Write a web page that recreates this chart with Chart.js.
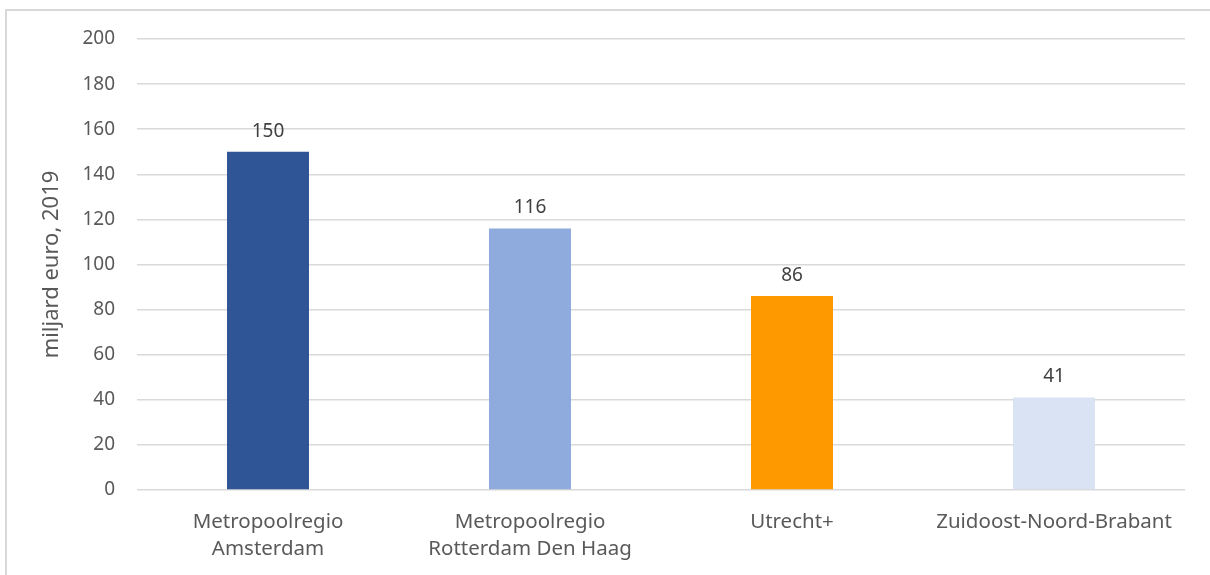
<!DOCTYPE html>
<html>
<head>
<meta charset="utf-8">
<script src="https://cdn.jsdelivr.net/npm/chart.js@4"></script>
<style>
  html, body { margin: 0; padding: 0; background: #fff; overflow: hidden; }
  #frame { position: absolute; left: 5px; top: 9px; width: 1300px; height: 700px; border: 2px solid #d9d9d9; box-sizing: border-box; }
  #wrap { position: absolute; left: 0; top: 0; width: 1210px; height: 575px; }
</style>
</head>
<body>
<div id="frame"></div>
<div id="wrap"><canvas id="myChart" width="1210" height="575"></canvas></div>
<script>
// regio's en toegevoegde waarde (miljard euro, 2019)
const regios = [
  ['Metropoolregio', 'Amsterdam'],
  ['Metropoolregio', 'Rotterdam Den Haag'],
  'Utrecht+',
  'Zuidoost-Noord-Brabant'
];
const waarden = [150, 116, 86, 41];
const kleuren = ['#2f5597', '#8faadc', '#ff9900', '#dae3f3'];
const yTicks = [0, 20, 40, 60, 80, 100, 120, 140, 160, 180, 200];

const fontFam = "'Noto Sans', sans-serif";
const grijs = '#595959';

// waarde boven elke staaf
const labelPlugin = {
  id: 'waardeLabels',
  afterDatasetsDraw(chart) {
    const ctx = chart.ctx;
    const meta = chart.getDatasetMeta(0);
    ctx.save();
    ctx.font = '19px ' + fontFam;
    ctx.fillStyle = '#404040';
    ctx.textAlign = 'center';
    ctx.textBaseline = 'bottom';
    meta.data.forEach((bar, i) => {
      ctx.fillText(waarden[i], bar.x, bar.y - 11);
    });
    ctx.restore();
  }
};

const ctx = document.getElementById('myChart').getContext('2d');
const myChart = new Chart(ctx, {
  type: 'bar',
  data: {
    labels: regios,
    datasets: [{
      data: waarden,
      backgroundColor: kleuren,
      categoryPercentage: 1,
      barPercentage: 0.313
    }]
  },
  plugins: [labelPlugin],
  options: {
    responsive: false,
    animation: false,
    layout: { padding: { top: 39, right: 25, left: 0, bottom: 0 } },
    plugins: { legend: { display: false }, tooltip: { enabled: false } },
    scales: {
      x: {
        grid: { display: false },
        border: { display: false },
        ticks: { color: grijs, font: { family: fontFam, size: 20.5, lineHeight: 1.3 }, padding: 11, maxRotation: 0, autoSkip: false },
        afterFit(scale) { scale.height = 85; }
      },
      y: {
        min: 0,
        max: 200,
        afterBuildTicks(scale) { scale.ticks = yTicks.map(v => ({ value: v })); },
        grid: { color: '#d9d9d9', lineWidth: 1.5, drawTicks: false },
        border: { display: false },
        ticks: { color: grijs, font: { family: fontFam, size: 19 }, padding: 22 },
        title: { display: true, text: 'miljard euro, 2019', color: grijs, font: { family: fontFam, size: 22 }, padding: { top: 39, bottom: 0 } },
        afterFit(scale) { scale.width = 137; }
      }
    }
  }
});
</script>
</body>
</html>
